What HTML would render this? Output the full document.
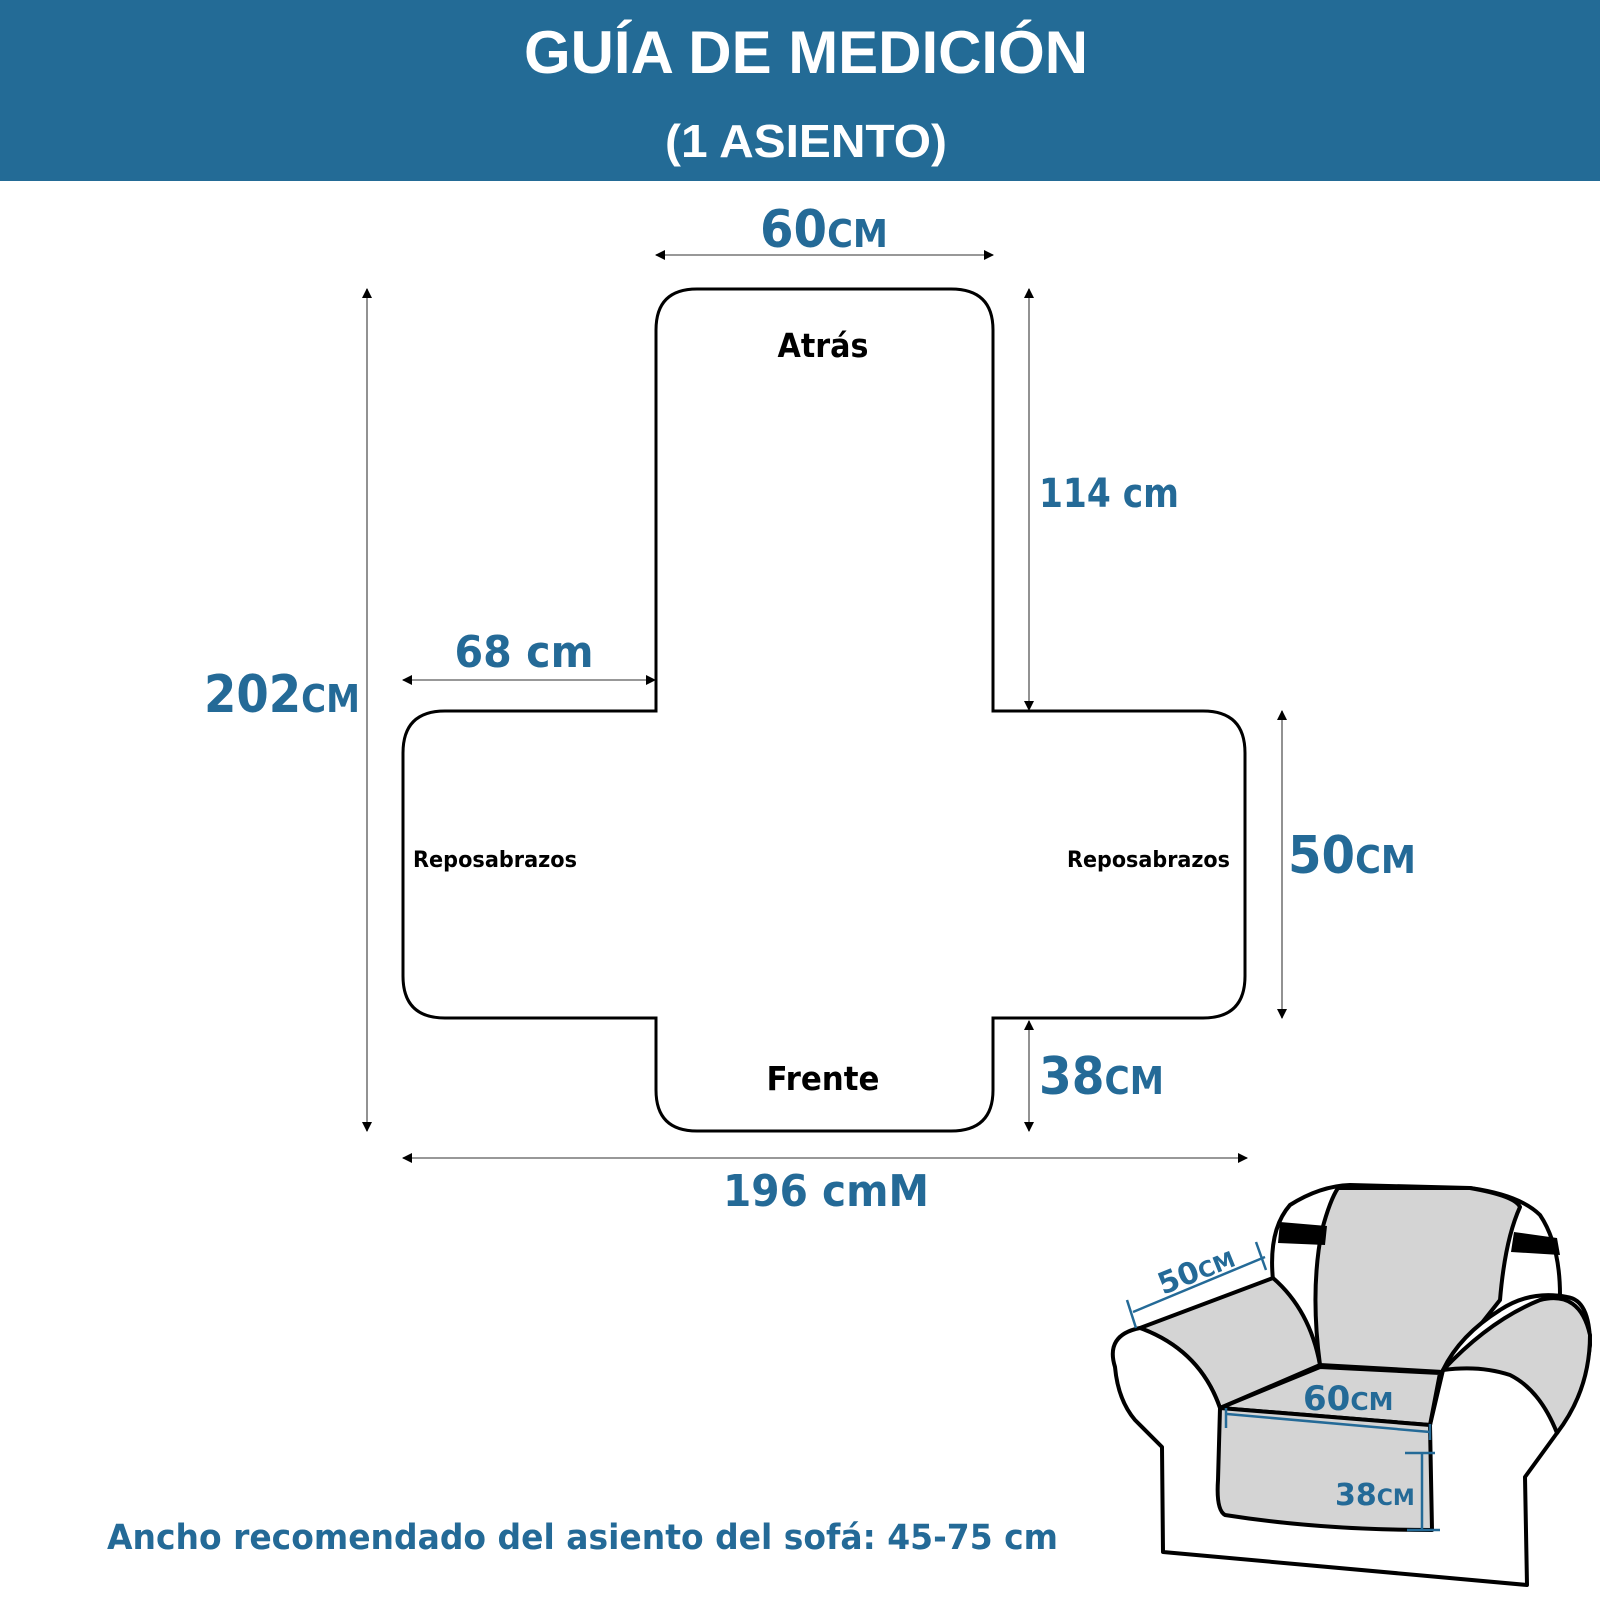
<!DOCTYPE html>
<html><head><meta charset="utf-8"><style>
html,body{margin:0;padding:0;background:#fff}
svg{display:block}
.b{fill:#246a97;font-family:"DejaVu Sans","Liberation Sans",sans-serif;font-weight:bold}
.k{fill:#000;font-family:"DejaVu Sans","Liberation Sans",sans-serif;font-weight:bold}
</style></head><body>
<svg width="1600" height="1600" viewBox="0 0 1600 1600" xmlns="http://www.w3.org/2000/svg">
<defs>
<marker id="a" viewBox="0 0 10 10" refX="9" refY="5" markerUnits="userSpaceOnUse" markerWidth="11" markerHeight="10" orient="auto-start-reverse"><path d="M0,0L10,5L0,10z" fill="#000"/></marker>
</defs>
<rect x="0" y="0" width="1600" height="181" fill="#236b96"/>
<text x="806" y="73" text-anchor="middle" fill="#fff" font-family="'Liberation Sans',sans-serif" font-weight="bold" font-size="60" textLength="564" lengthAdjust="spacingAndGlyphs">GUÍA DE MEDICIÓN</text>
<text x="806" y="157" text-anchor="middle" fill="#fff" font-family="'Liberation Sans',sans-serif" font-weight="bold" font-size="46" textLength="282" lengthAdjust="spacingAndGlyphs">(1 ASIENTO)</text>

<path d="M656,711 V330 Q656,289 697,289 H951 Q993,289 993,330 V711 H1203 Q1245,711 1245,753 V976 Q1245,1018 1203,1018 H993 V1090 Q993,1131 951,1131 H697 Q656,1131 656,1090 V1018 H445 Q403,1018 403,976 V753 Q403,711 445,711 Z" fill="none" stroke="#000" stroke-width="3"/>

<g stroke="#777" stroke-width="1.6" fill="none">
<line x1="656" y1="255" x2="993" y2="255" marker-start="url(#a)" marker-end="url(#a)"/>
<line x1="367" y1="289" x2="367" y2="1131" marker-start="url(#a)" marker-end="url(#a)"/>
<line x1="1029" y1="289" x2="1029" y2="710" marker-start="url(#a)" marker-end="url(#a)"/>
<line x1="403" y1="680" x2="655" y2="680" marker-start="url(#a)" marker-end="url(#a)"/>
<line x1="1282" y1="711" x2="1282" y2="1018" marker-start="url(#a)" marker-end="url(#a)"/>
<line x1="1029" y1="1021" x2="1029" y2="1131" marker-start="url(#a)" marker-end="url(#a)"/>
<line x1="403" y1="1158" x2="1247" y2="1158" marker-start="url(#a)" marker-end="url(#a)"/>
</g>

<text class="b" x="824" y="247" text-anchor="middle" font-size="52" textLength="128" lengthAdjust="spacingAndGlyphs">60<tspan font-size="38">CM</tspan></text>
<text class="b" x="204" y="712" font-size="52" textLength="156" lengthAdjust="spacingAndGlyphs">202<tspan font-size="38">CM</tspan></text>
<text class="b" x="1039" y="507" font-size="40" textLength="140" lengthAdjust="spacingAndGlyphs">114 cm</text>
<text class="b" x="524" y="667" text-anchor="middle" font-size="44" textLength="139" lengthAdjust="spacingAndGlyphs">68 cm</text>
<text class="b" x="1288" y="873" font-size="52" textLength="128" lengthAdjust="spacingAndGlyphs">50<tspan font-size="38">CM</tspan></text>
<text class="b" x="1039" y="1094" font-size="52" textLength="125" lengthAdjust="spacingAndGlyphs">38<tspan font-size="38">CM</tspan></text>
<text class="b" x="826" y="1206" text-anchor="middle" font-size="44" textLength="206" lengthAdjust="spacingAndGlyphs">196 cmM</text>
<text class="k" x="823" y="357" text-anchor="middle" font-size="33" textLength="91" lengthAdjust="spacingAndGlyphs">Atrás</text>
<text class="k" x="823" y="1090" text-anchor="middle" font-size="33" textLength="113" lengthAdjust="spacingAndGlyphs">Frente</text>
<text class="k" x="413" y="867" font-size="22" textLength="164" lengthAdjust="spacingAndGlyphs">Reposabrazos</text>
<text class="k" x="1230" y="867" text-anchor="end" font-size="22" textLength="163" lengthAdjust="spacingAndGlyphs">Reposabrazos</text>
<text class="b" x="107" y="1549" font-size="35" textLength="951" lengthAdjust="spacingAndGlyphs">Ancho recomendado del asiento del sofá: 45-75 cm</text>

<!-- chair -->
<g stroke="#000" stroke-width="4" stroke-linejoin="round" fill="#fff">
<path d="M1273,1280 Q1268,1230 1290,1205 Q1320,1186 1350,1185 L1470,1188 Q1520,1195 1540,1215 Q1560,1245 1560,1295 L1520,1310 L1320,1365 Z"/>
<path d="M1338,1188 L1470,1188 Q1515,1196 1520,1207 Q1505,1240 1500,1300 L1443,1372 L1320,1365 Q1310,1290 1322,1230 Q1330,1200 1338,1188 Z" fill="#d4d4d4"/>
<path d="M1140,1328 L1273,1278 Q1310,1310 1320,1365 L1220,1408 Q1200,1350 1140,1328 Z" fill="#d4d4d4"/>
<path d="M1140,1328 Q1105,1335 1115,1367 Q1118,1400 1135,1420 L1162,1447 L1163,1552 L1527,1585 L1525,1477 L1557,1433 Q1585,1390 1590,1345 Q1590,1300 1567,1297 Q1530,1290 1500,1310 Q1460,1335 1443,1370 L1430,1425 L1220,1408 Q1200,1350 1140,1328 Z"/>
<path d="M1443,1370 Q1490,1320 1540,1300 Q1580,1290 1590,1335 Q1590,1390 1557,1433 Q1540,1390 1510,1375 Q1480,1365 1443,1370 Z" fill="#d4d4d4"/>
<path d="M1220,1408 L1320,1367 L1440,1373 L1430,1425 Z" fill="#d4d4d4"/>
<path d="M1220,1408 L1430,1425 L1432,1530 Q1320,1530 1225,1515 Q1216,1510 1218,1480 Z" fill="#d4d4d4"/>
</g>
<path d="M1280,1222 L1327,1226 L1325,1245 L1278,1243 Z" fill="#000"/>
<path d="M1514,1232 L1557,1238 L1560,1255 L1511,1252 Z" fill="#000"/>
<g stroke="#246a97" stroke-width="2.5">
<line x1="1133" y1="1312" x2="1265" y2="1257"/>
<line x1="1127" y1="1300" x2="1136" y2="1328"/>
<line x1="1256" y1="1242" x2="1266" y2="1270"/>
<line x1="1227" y1="1414" x2="1430" y2="1432"/>
<line x1="1226" y1="1408" x2="1226" y2="1428"/>
<line x1="1430" y1="1424" x2="1430" y2="1440"/>
<line x1="1422" y1="1453" x2="1422" y2="1530"/>
<line x1="1405" y1="1453" x2="1435" y2="1453"/>
<line x1="1407" y1="1530" x2="1440" y2="1530"/>
</g>
<text class="b" x="1163" y="1295" font-size="30" transform="rotate(-22 1163 1295)">50<tspan font-size="22">CM</tspan></text>
<text class="b" x="1303" y="1410" font-size="34">60<tspan font-size="25">CM</tspan></text>
<text class="b" x="1335" y="1505" font-size="30">38<tspan font-size="22">CM</tspan></text>
</svg>
</body></html>
